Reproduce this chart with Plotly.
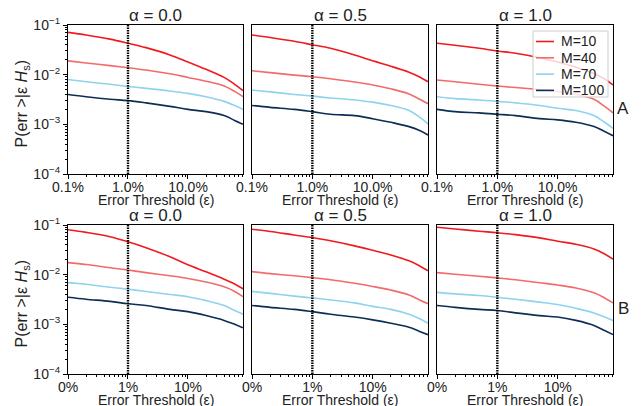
import plotly.graph_objects as go

# ---- data ----
EPS = [0.1, 0.2, 0.5, 1, 2, 5, 10, 20, 40, 60, 82.6]   # error threshold (%)
M_LABELS = ["M=10", "M=40", "M=70", "M=100"]
ALPHA_LABELS = ["α = 0.0", "α = 0.5", "α = 1.0"]
TOP_TICKTEXT = ["0.1%", "1.0%", "10.0%"]
BOT_TICKTEXT = ["0%", "1%", "10%"]
X_TICKVALS = [0.1, 1, 10]
Y_TICKVALS = [1e-4, 1e-3, 1e-2, 1e-1]
Y_TICKTEXT = ["10<sup>−4</sup>", "10<sup>−3</sup>", "10<sup>−2</sup>", "10<sup>−1</sup>"]
THRESHOLD = 1.0

# Row A
A_ALPHA00 = [
    [0.071, 0.063, 0.052, 0.043, 0.035, 0.025, 0.018, 0.0128, 0.0088, 0.0064, 0.0048],
    [0.019, 0.0172, 0.0152, 0.0138, 0.0124, 0.0104, 0.0088, 0.0074, 0.0059, 0.0046, 0.0036],
    [0.0080, 0.0072, 0.0064, 0.0058, 0.0053, 0.0047, 0.0042, 0.0036, 0.0029, 0.0024, 0.0020],
    [0.0040, 0.0036, 0.0032, 0.0030, 0.0027, 0.0023, 0.0020, 0.0018, 0.0015, 0.0012, 0.0010],
]
A_ALPHA05 = [
    [0.063, 0.056, 0.047, 0.040, 0.034, 0.025, 0.019, 0.0148, 0.0112, 0.0090, 0.0072],
    [0.012, 0.011, 0.0098, 0.0091, 0.0083, 0.0071, 0.0062, 0.0052, 0.0041, 0.0032, 0.0026],
    [0.0049, 0.0045, 0.0040, 0.0037, 0.0034, 0.0031, 0.0028, 0.0024, 0.0019, 0.0014, 0.00102],
    [0.0024, 0.0022, 0.0020, 0.0018, 0.0016, 0.0015, 0.0013, 0.0011, 0.0009, 0.00075, 0.00061],
]
A_ALPHA10 = [
    [0.043, 0.039, 0.034, 0.030, 0.027, 0.022, 0.018, 0.0142, 0.0106, 0.0082, 0.0062],
    [0.0078, 0.0072, 0.0064, 0.0059, 0.0055, 0.0050, 0.0046, 0.0040, 0.0032, 0.0023, 0.0017],
    [0.0036, 0.0033, 0.0031, 0.0029, 0.0027, 0.0024, 0.0021, 0.0019, 0.0015, 0.0011, 0.00083],
    [0.0020, 0.0018, 0.0017, 0.0016, 0.0015, 0.0013, 0.00123, 0.0011, 0.0009, 0.00072, 0.00059],
]
# Row B
B_ALPHA00 = [
    [0.080, 0.071, 0.058, 0.046, 0.035, 0.023, 0.0158, 0.0114, 0.0081, 0.0065, 0.0052],
    [0.0175, 0.016, 0.0138, 0.0124, 0.011, 0.0095, 0.0084, 0.0071, 0.0057, 0.0046, 0.0036],
    [0.0069, 0.0064, 0.0056, 0.0051, 0.0046, 0.0040, 0.0036, 0.0030, 0.0024, 0.0019, 0.0016],
    [0.0035, 0.0032, 0.0029, 0.0026, 0.0024, 0.0020, 0.0018, 0.0015, 0.0012, 0.0010, 0.00085],
]
B_ALPHA05 = [
    [0.082, 0.074, 0.063, 0.056, 0.048, 0.038, 0.031, 0.025, 0.019, 0.015, 0.012],
    [0.0115, 0.0105, 0.0095, 0.0087, 0.0079, 0.0067, 0.0058, 0.0049, 0.0039, 0.0031, 0.0026],
    [0.0046, 0.0042, 0.0037, 0.0034, 0.0031, 0.0027, 0.0023, 0.0020, 0.0016, 0.0013, 0.00105],
    [0.0024, 0.0022, 0.0020, 0.0018, 0.0016, 0.0014, 0.00123, 0.00105, 0.00087, 0.00072, 0.00062],
]
B_ALPHA10 = [
    [0.090, 0.083, 0.075, 0.070, 0.064, 0.055, 0.047, 0.041, 0.033, 0.026, 0.0205],
    [0.011, 0.0102, 0.0093, 0.0086, 0.0079, 0.0069, 0.0062, 0.0054, 0.0043, 0.0034, 0.0027],
    [0.0044, 0.0041, 0.0038, 0.0035, 0.0032, 0.0028, 0.0025, 0.0021, 0.0017, 0.0014, 0.0012],
    [0.0024, 0.0022, 0.0020, 0.0019, 0.0017, 0.0015, 0.0014, 0.0012, 0.00095, 0.00075, 0.00062],
]

PANELS = [[A_ALPHA00, A_ALPHA05, A_ALPHA10], [B_ALPHA00, B_ALPHA05, B_ALPHA10]]
ROW_LABELS = ["A", "B"]

# ---- styling ----
COLORS = ["#f01a1e", "#f26b6b", "#8fd3ee", "#0d2d55"]
FONT = "Liberation Sans, Arial, sans-serif"
W, H = 643, 406
X_PX = [(68, 243), (252, 428), (437, 613)]
Y_PX = [(25, 174), (225, 374)]
LEG_BOX = (533, 31, 608, 97)   # legend box in pixels (left, top, right, bottom)
LEG_ROW = 16.3

def px(x):
    return x / W

def py(y):
    return 1 - y / H

fig = go.Figure()
layout = dict(
    width=W, height=H, margin=dict(l=0, r=0, t=0, b=0, autoexpand=False),
    paper_bgcolor="white", plot_bgcolor="white",
    font=dict(family=FONT, size=14, color="#222"),
    showlegend=False,
)
annotations = []
shapes = []
minor_x = [v * m for v in [0.1, 1, 10] for m in range(2, 10) if v * m <= 82.6]
minor_y = [v * m for v in [1e-4, 1e-3, 1e-2] for m in range(2, 10)]

idx = 0
for r in range(2):
    for c in range(3):
        idx += 1
        sfx = "" if idx == 1 else str(idx)
        xd = [px(X_PX[c][0]), px(X_PX[c][1])]
        yd = [py(Y_PX[r][1]), py(Y_PX[r][0])]
        layout["xaxis" + sfx] = dict(
            domain=xd, anchor="y" + sfx, type="log", range=[-1, 1.917],
            tickvals=X_TICKVALS, ticktext=TOP_TICKTEXT if r == 0 else BOT_TICKTEXT,
            ticks="outside", ticklen=4, tickwidth=1, tickcolor="black",
            ticklabelstandoff=-4,
            minor=dict(tickvals=minor_x, ticks="outside", ticklen=2, tickwidth=1,
                       tickcolor="black", showgrid=False),
            showline=True, linecolor="black", linewidth=1.2, mirror=True,
            showgrid=False, zeroline=False, tickfont=dict(size=14), automargin=False,
        )
        left = c == 0
        layout["yaxis" + sfx] = dict(
            domain=yd, anchor="x" + sfx, type="log", range=[-4, -1],
            tickvals=Y_TICKVALS, ticktext=Y_TICKTEXT if left else ["", "", "", ""],
            showticklabels=left,
            ticks="outside" if left else "", ticklen=4, tickwidth=1, tickcolor="black",
            minor=dict(tickvals=minor_y, ticks="outside" if left else "", ticklen=2,
                       tickwidth=1, tickcolor="black", showgrid=False),
            showline=True, linecolor="black", linewidth=1.2, mirror=True,
            showgrid=False, zeroline=False, tickfont=dict(size=14), automargin=False,
        )
        data = PANELS[r][c]
        for k, ys in enumerate(data):
            fig.add_trace(go.Scatter(
                x=EPS, y=ys, mode="lines", name=M_LABELS[k],
                line=dict(color=COLORS[k], width=1.6, shape="spline", smoothing=1.0),
                xaxis="x" + sfx, yaxis="y" + sfx, hoverinfo="x+y+name",
            ))
        shapes.append(dict(type="line", xref="x" + sfx, yref="y" + sfx + " domain",
                           x0=THRESHOLD, x1=THRESHOLD, y0=0, y1=1,
                           line=dict(color="black", width=2.4, dash="1.5px,1px")))
        annotations.append(dict(text=ALPHA_LABELS[c], xref="paper", yref="paper",
                                x=(xd[0] + xd[1]) / 2, y=yd[1], yanchor="bottom",
                                xanchor="center", showarrow=False, yshift=-2,
                                font=dict(size=17)))
        annotations.append(dict(text="Error Threshold (ε)", xref="paper", yref="paper",
                                x=(xd[0] + xd[1]) / 2, y=py(Y_PX[r][1] + 26),
                                yanchor="middle", xanchor="center", showarrow=False,
                                font=dict(size=14)))
    # row y-axis title
    yc = py((Y_PX[r][0] + Y_PX[r][1]) / 2 + 4)
    annotations.append(dict(text="P(err >|ε <i>H</i><sub>s</sub>)", xref="paper", yref="paper",
                            x=px(22), y=yc, textangle=-90, showarrow=False,
                            xanchor="center", yanchor="middle", font=dict(size=16)))
    annotations.append(dict(text=ROW_LABELS[r], xref="paper", yref="paper",
                            x=px(623), y=py(108 + 200 * r), showarrow=False,
                            xanchor="center", yanchor="middle", font=dict(size=17)))

# legend (drawn in the top-right panel)
shapes.append(dict(type="rect", xref="paper", yref="paper",
                   x0=px(LEG_BOX[0]), x1=px(LEG_BOX[2]), y0=py(LEG_BOX[3]), y1=py(LEG_BOX[1]),
                   fillcolor="rgba(255,255,255,0.8)", line=dict(color="#cccccc", width=1),
                   layer="above"))
for k, lab in enumerate(M_LABELS):
    yy = LEG_BOX[1] + 10.5 + k * LEG_ROW
    shapes.append(dict(type="line", xref="paper", yref="paper",
                       x0=px(LEG_BOX[0] + 3), x1=px(LEG_BOX[0] + 21), y0=py(yy), y1=py(yy),
                       line=dict(color=COLORS[k], width=1.6), layer="above"))
    annotations.append(dict(text=lab, xref="paper", yref="paper", x=px(LEG_BOX[0] + 26),
                            y=py(yy), xanchor="left", yanchor="middle", showarrow=False,
                            font=dict(size=14)))

layout["annotations"] = annotations
layout["shapes"] = shapes
fig.update_layout(**layout)
fig.write_html("out.html", config={"displayModeBar": False},
               post_script="document.body.style.margin='0px';document.body.style.overflow='hidden';")
